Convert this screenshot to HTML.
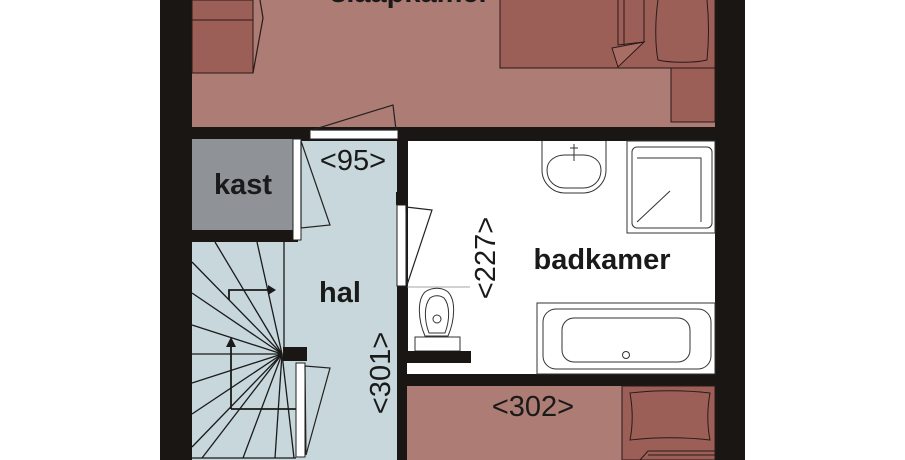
<!DOCTYPE html>
<html><head><meta charset="utf-8"><style>
html,body{margin:0;padding:0;background:#fff;}
svg{display:block;}
text{font-family:"Liberation Sans","DejaVu Sans",sans-serif;fill:#1a1a1a;}
.b{font-weight:bold;font-size:29px;}
.d{font-size:29px;}
</style></head><body>
<svg width="905" height="460" viewBox="0 0 905 460" xmlns="http://www.w3.org/2000/svg">
<rect x="0" y="0" width="905" height="460" fill="#fff"/>
<rect x="160" y="0" width="585" height="460" fill="#1a1614"/>
<rect x="192" y="0" width="523" height="127" fill="#ad7c74"/>
<rect x="192" y="0" width="61" height="73" fill="#9c5f58" stroke="#2a1a18" stroke-width="1"/>
<line x1="192" y1="20" x2="253" y2="20" stroke="#2a1a18"/>
<polyline points="260,0 263,18 253,73" fill="none" stroke="#2a1a18" stroke-width="1.2"/>
<rect x="500" y="-2" width="215" height="70" fill="#9c5f58" stroke="#2a1a18"/>
<rect x="671" y="68" width="44" height="54" fill="#9c5f58" stroke="#2a1a18"/>
<path d="M658,0 C655,20 655,45 658,60 C670,63 695,63 707,60 C709,40 709,20 707,0" fill="#9c5f58" stroke="#2a1a18"/>
<polyline points="618,0 618,45 644,42 644,0" fill="none" stroke="#2a1a18"/>
<line x1="624" y1="0" x2="624" y2="45" stroke="#2a1a18"/>
<polygon points="612,48 644,42 618,67" fill="#a86e66" stroke="#2a1a18"/>
<text class="b" x="410" y="2" text-anchor="middle">slaapkamer</text>
<rect x="310" y="130" width="88" height="9" fill="#fff" stroke="#222"/>
<polygon points="312,130 393,105 396,130" fill="none" stroke="#222" stroke-width="1.2"/>
<rect x="192" y="139" width="101" height="91" fill="#8f9398"/>
<text class="b" x="243" y="194" text-anchor="middle">kast</text>
<rect x="293" y="141" width="104" height="319" fill="#c7d7db"/>
<rect x="192" y="242" width="104" height="218" fill="#c7d7db"/>
<rect x="160" y="230" width="138" height="12" fill="#1a1614"/>
<rect x="293" y="139" width="8" height="101" fill="#fff" stroke="#222"/>
<polygon points="301,141 330,225 301,228" fill="none" stroke="#222" stroke-width="1.2"/>
<text class="d" x="353" y="170" text-anchor="middle">&lt;95&gt;</text>
<text class="b" x="340" y="302" text-anchor="middle">hal</text>
<text class="d" transform="translate(390,373) rotate(-90)" text-anchor="middle">&lt;301&gt;</text>
<g stroke="#1a1a1a" stroke-width="1.3" fill="none">
<line x1="284" y1="242" x2="284" y2="350"/>
<line x1="192" y1="458" x2="296" y2="458"/>
<line x1="282" y1="354" x2="215" y2="242"/>
<line x1="282" y1="354" x2="257" y2="242"/>
<line x1="282" y1="354" x2="192" y2="262"/>
<line x1="282" y1="354" x2="192" y2="293"/>
<line x1="282" y1="354" x2="192" y2="325"/>
<line x1="282" y1="354" x2="192" y2="354"/>
<line x1="282" y1="354" x2="192" y2="383"/>
<line x1="282" y1="354" x2="192" y2="414"/>
<line x1="282" y1="354" x2="192" y2="447"/>
<line x1="282" y1="354" x2="202" y2="458"/>
<line x1="282" y1="354" x2="243" y2="458"/>
<line x1="282" y1="354" x2="275" y2="458"/>
<line x1="282" y1="354" x2="294" y2="458"/>
<polyline points="229,300 229,290 270,290" stroke-width="1.8"/>
<polyline points="231,409 231,345" stroke-width="1.8"/>
<line x1="231" y1="409" x2="296" y2="409" stroke-width="1.8"/>
</g>
<polygon points="268,285 276,290 268,295" fill="#1a1a1a"/>
<polygon points="226,347 231,337 236,347" fill="#1a1a1a"/>
<rect x="283" y="347" width="24" height="14" fill="#1a1614"/>
<rect x="296" y="363" width="9" height="94" fill="#fff" stroke="#222"/>
<polygon points="305,366 330,368 306,455" fill="none" stroke="#222" stroke-width="1.2"/>
<rect x="408" y="141" width="307" height="233" fill="#fff"/>
<rect x="396" y="192" width="12" height="13" fill="#1a1614"/>
<rect x="397" y="205" width="9" height="81" fill="#fff" stroke="#222"/>
<polygon points="406,207 432,210 407,285" fill="none" stroke="#222" stroke-width="1.2"/>
<line x1="407" y1="287" x2="470" y2="287" stroke="#888" stroke-width="0.8"/>
<path d="M542,141 L542,170 A23,23 0 0 0 565,193 L583,193 A23,23 0 0 0 606,170 L606,141" fill="none" stroke="#333"/>
<path d="M547,170 C547,160 556,155 565,155 L583,155 C592,155 601,160 601,170 C601,182 592,188 583,188 L565,188 C556,188 547,182 547,170Z" fill="none" stroke="#333"/>
<line x1="574" y1="144" x2="574" y2="161" stroke="#333"/><line x1="570" y1="148" x2="578" y2="148" stroke="#333"/>
<rect x="627" y="141" width="88" height="92" fill="#fff" stroke="#333"/>
<rect x="632" y="147" width="80" height="81" rx="5" fill="none" stroke="#333"/>
<polyline points="637,158 701,158 701,222" fill="none" stroke="#333"/>
<line x1="637" y1="222" x2="670" y2="191" stroke="#333"/>
<text class="b" x="602" y="269" text-anchor="middle">badkamer</text>
<text class="d" transform="translate(495,258) rotate(-90)" text-anchor="middle">&lt;227&gt;</text>
<rect x="537" y="303" width="178" height="71" fill="#fff" stroke="#333"/>
<rect x="543" y="309" width="168" height="60" rx="13" fill="none" stroke="#333"/>
<rect x="562" y="318" width="128" height="44" rx="12" fill="none" stroke="#333"/>
<circle cx="626" cy="355" r="3.5" fill="none" stroke="#333"/>
<path d="M425,336 C418,320 417,300 425,292 C432,287 442,287 448,292 C456,300 455,320 448,336Z" fill="#fff" stroke="#333"/>
<path d="M429,333 C424,320 424,305 430,298 C434,295 440,295 444,298 C450,305 450,320 445,333Z" fill="none" stroke="#333"/>
<circle cx="437" cy="319" r="4" fill="none" stroke="#333"/>
<rect x="415" y="337" width="45" height="14" fill="#fff" stroke="#333"/>
<rect x="407" y="351" width="64" height="12" fill="#1a1614"/>
<rect x="407" y="363" width="55" height="11" fill="#fff"/>
<rect x="407" y="386" width="308" height="74" fill="#ad7c74"/>
<rect x="622" y="386" width="93" height="74" fill="#9c5f58" stroke="#2a1a18"/>
<path d="M630,393 C655,390 685,390 710,393 C707,410 707,425 710,440 C685,437 655,437 630,440 C633,425 633,410 630,393Z" fill="#9c5f58" stroke="#2a1a18"/>
<polyline points="640,460 648,451 715,451" fill="none" stroke="#2a1a18"/>
<line x1="648" y1="455" x2="715" y2="455" stroke="#2a1a18"/>
<text class="d" x="533" y="416" text-anchor="middle">&lt;302&gt;</text>
</svg>
</body></html>
